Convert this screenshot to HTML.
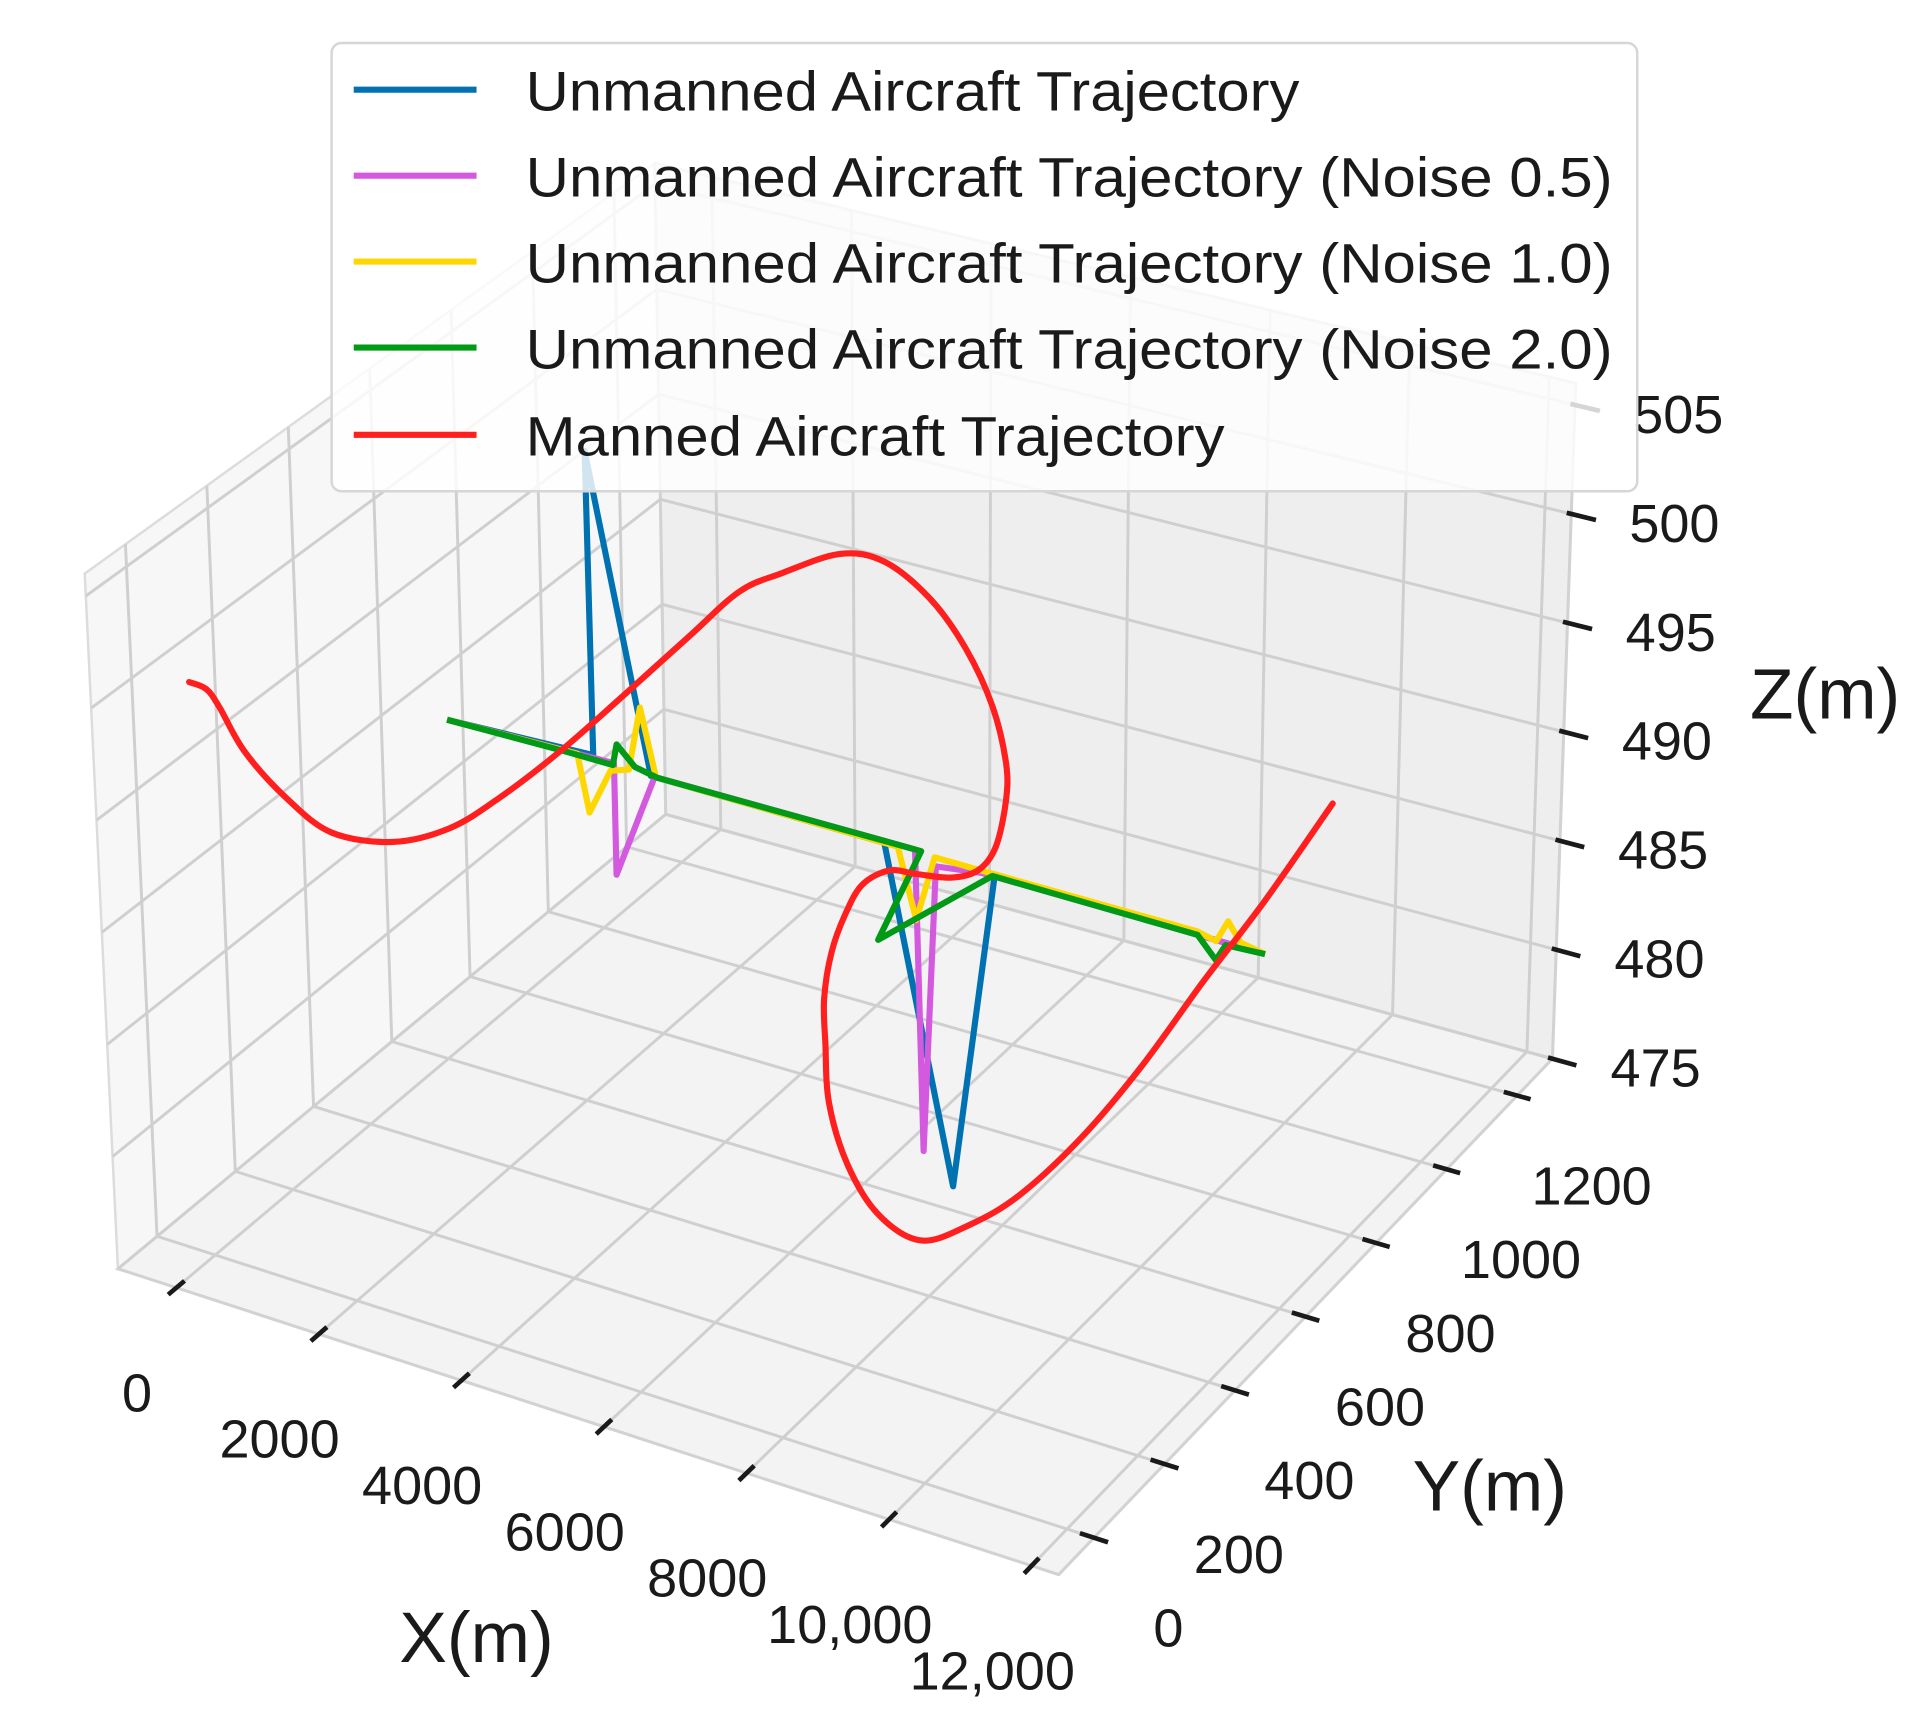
<!DOCTYPE html>
<html><head><meta charset="utf-8"><title>3D Aircraft Trajectories</title>
<style>
html,body{margin:0;padding:0;background:#fff;}
svg{display:block;font-family:"Liberation Sans",Arial,sans-serif;}
</style></head>
<body>
<svg id="chart" xmlns="http://www.w3.org/2000/svg" width="1916" height="1733" viewBox="0 0 1560 1411">
  <g id="panes"></g>
  <g id="grid"></g>
  <g id="ticks"></g>
  <g id="series"></g>
  <text x="388" y="1353" font-size="58" text-anchor="middle" fill="#1a1a1a">X(m)</text>
  <text x="1213" y="1230" font-size="58" text-anchor="middle" fill="#1a1a1a">Y(m)</text>
  <text x="1486" y="585" font-size="58" text-anchor="middle" fill="#1a1a1a">Z(m)</text>
  <g>
    <rect x="270" y="35" width="1063" height="365" rx="8" fill="#ffffff" fill-opacity="0.82" stroke="#d6d6d6" stroke-width="2"/>
    <line x1="288" y1="73" x2="388" y2="73" stroke="#0072b2" stroke-width="5"/>
    <text x="428" y="90" font-size="45" fill="#1a1a1a" textLength="630" lengthAdjust="spacingAndGlyphs">Unmanned Aircraft Trajectory</text>
    <line x1="288" y1="143" x2="388" y2="143" stroke="#d35ade" stroke-width="5"/>
    <text x="428" y="160" font-size="45" fill="#1a1a1a" textLength="885" lengthAdjust="spacingAndGlyphs">Unmanned Aircraft Trajectory (Noise 0.5)</text>
    <line x1="288" y1="213" x2="388" y2="213" stroke="#ffd700" stroke-width="5"/>
    <text x="428" y="230" font-size="45" fill="#1a1a1a" textLength="885" lengthAdjust="spacingAndGlyphs">Unmanned Aircraft Trajectory (Noise 1.0)</text>
    <line x1="288" y1="283" x2="388" y2="283" stroke="#009a17" stroke-width="5"/>
    <text x="428" y="300" font-size="45" fill="#1a1a1a" textLength="885" lengthAdjust="spacingAndGlyphs">Unmanned Aircraft Trajectory (Noise 2.0)</text>
    <line x1="288" y1="354" x2="388" y2="354" stroke="#ff1f1f" stroke-width="5"/>
    <text x="428" y="371" font-size="45" fill="#1a1a1a" textLength="569" lengthAdjust="spacingAndGlyphs">Manned Aircraft Trajectory</text>
  </g>
</svg>
<script>
// ---- axis data ----
const xTicks = [0, 2000, 4000, 6000, 8000, 10000, 12000];
const xTickLabels = ["0", "2000", "4000", "6000", "8000", "10,000", "12,000"];
const yTicks = [200, 400, 600, 800, 1000, 1200, 1400];
const yLabelValues = [0, 200, 400, 600, 800, 1000, 1200];
const yTickLabels = ["0", "200", "400", "600", "800", "1000", "1200"];
const zTicks = [475, 480, 485, 490, 495, 500, 505];
const zTickLabels = ["475", "480", "485", "490", "495", "500", "505"];

// ---- series data ----
const uavX = [121, 2194, 2162, 3011, 6316, 7289, 7881, 10752, 11709];
const uavY = [800, 800, 800, 800, 800, 800, 800, 800, 800];
const uavZ = [490.7, 491.0, 504.9, 490.8, 490.8, 476.1, 490.8, 490.7, 490.7];

const noise05X = [121, 2488, 2493, 3062, 6750, 6864, 7046, 7707, 10752, 11709];
const noise05Y = [800, 800, 800, 800, 800, 800, 800, 800, 800, 800];
const noise05Z = [490.7, 490.9, 485.8, 490.8, 490.9, 477.3, 490.4, 490.7, 490.7, 490.7];

const noise10X = [121, 1967, 2124, 2434, 2697, 2871, 3081, 6507, 6766, 7029, 7533, 10752, 11016, 11183, 11361, 11709];
const noise10Y = [800, 800, 800, 800, 800, 800, 800, 800, 800, 800, 800, 800, 800, 800, 800, 800];
const noise10Z = [490.7, 490.85, 488.3, 490.5, 490.8, 493.8, 490.8, 490.8, 487.7, 490.8, 490.8, 490.85, 490.65, 491.7, 490.9, 490.7];

const noise20X = [121, 1810, 2471, 2529, 2785, 3098, 6837, 6222, 7847, 10752, 11016, 11152, 11709];
const noise20Y = [800, 800, 800, 800, 800, 800, 800, 800, 800, 800, 800, 800, 800];
const noise20Z = [490.7, 490.8, 490.8, 491.8, 491.0, 490.8, 490.9, 486.3, 490.7, 490.7, 489.8, 490.6, 490.7];

const mannedX = [-3555, -3312, -3129, -2801, -2226, -1588, -707, 112, 847, 1741, 2629, 3581, 4299, 4905, 5715, 6332, 6965, 7463, 7842, 8035, 8036, 7897, 7654, 7272, 6767, 6383, 5999, 5751, 5554, 5445, 5457, 5504, 5764, 6205, 6825, 7537, 8244, 9122, 9991, 10848, 11696, 12618];
const mannedY = [800, 800, 800, 800, 800, 800, 800, 800, 800, 800, 800, 800, 800, 800, 800, 800, 800, 800, 800, 800, 800, 800, 800, 800, 800, 800, 800, 800, 800, 800, 800, 800, 800, 800, 800, 800, 800, 800, 800, 800, 800, 800];
const mannedZ = [489.0, 488.9, 488.2, 486.5, 484.9, 483.9, 484.3, 485.7, 487.8, 490.8, 494.1, 497.7, 500.4, 501.8, 503.4, 503.6, 502.5, 500.7, 498.4, 496.0, 494.3, 492.1, 490.8, 490.1, 489.8, 489.6, 488.6, 487.0, 485.1, 482.9, 480.9, 478.2, 475.65, 473.8, 473.2, 474.6, 476.6, 480.0, 484.1, 488.7, 493.1, 498.3];

// ---- axis limits & view geometry ----
const XMIN = -820, XMAX = 12380, YMIN = 100, YMAX = 1500, ZMIN = 475, ZMAX = 506;
const C = {
  c000: [96, 1033], c100: [862, 1282], c110: [1264, 862], c010: [542, 663],
  c001: [69, 467], c101: [865, 710], c111: [1283, 312], c011: [533, 133]
};
function P(x, y, z) {
  const u = (x - XMIN) / (XMAX - XMIN), v = (y - YMIN) / (YMAX - YMIN), w = (z - ZMIN) / (ZMAX - ZMIN);
  const out = [0, 0];
  for (let i = 0; i < 2; i++) {
    const b0 = (1 - u) * (1 - v) * C.c000[i] + u * (1 - v) * C.c100[i] + u * v * C.c110[i] + (1 - u) * v * C.c010[i];
    const b1 = (1 - u) * (1 - v) * C.c001[i] + u * (1 - v) * C.c101[i] + u * v * C.c111[i] + (1 - u) * v * C.c011[i];
    out[i] = (1 - w) * b0 + w * b1;
  }
  return out;
}
const NS = "http://www.w3.org/2000/svg";
function mk(tag, attrs, parent) {
  const e = document.createElementNS(NS, tag);
  for (const k in attrs) e.setAttribute(k, attrs[k]);
  parent.appendChild(e);
  return e;
}
function pts(list) { return list.map(p => p[0].toFixed(1) + "," + p[1].toFixed(1)).join(" "); }

// ---- panes ----
const panes = document.getElementById("panes");
const floor = mk("polygon", { points: pts([P(XMIN, YMIN, ZMIN), P(XMAX, YMIN, ZMIN), P(XMAX, YMAX, ZMIN), P(XMIN, YMAX, ZMIN)]), fill: "#f3f3f3", stroke: "#d2d2d2", "stroke-width": 2.5 }, panes);


const leftWall = mk("polygon", { points: pts([P(XMIN, YMIN, ZMIN), P(XMIN, YMAX, ZMIN), P(XMIN, YMAX, ZMAX), P(XMIN, YMIN, ZMAX)]), fill: "#f7f7f7", stroke: "#dcdcdc", "stroke-width": 2 }, panes);


const backWall = mk("polygon", { points: pts([P(XMIN, YMAX, ZMIN), P(XMAX, YMAX, ZMIN), P(XMAX, YMAX, ZMAX), P(XMIN, YMAX, ZMAX)]), fill: "#eeeeee", stroke: "#d2d2d2", "stroke-width": 2.5 }, panes);



// ---- grid ----
const grid = document.getElementById("grid");
function gline(a, b, name) {
  const l = mk("line", { x1: a[0], y1: a[1], x2: b[0], y2: b[1], stroke: "#cfcfcf", "stroke-width": 2.4 }, grid);
  
  
}
xTicks.forEach(x => {
  gline(P(x, YMIN, ZMIN), P(x, YMAX, ZMIN), "x-grid-floor");
  gline(P(x, YMAX, ZMIN), P(x, YMAX, ZMAX), "x-grid-wall");
});
yTicks.forEach(y => {
  gline(P(XMIN, y, ZMIN), P(XMAX, y, ZMIN), "y-grid-floor");
  gline(P(XMIN, y, ZMIN), P(XMIN, y, ZMAX), "y-grid-wall");
});
zTicks.forEach(z => {
  gline(P(XMIN, YMIN, z), P(XMIN, YMAX, z), "z-grid-left");
  gline(P(XMIN, YMAX, z), P(XMAX, YMAX, z), "z-grid-back");
});

// ---- ticks & labels ----
const ticks = document.getElementById("ticks");
function tmark(a, b, name) {
  const l = mk("line", { x1: a[0], y1: a[1], x2: b[0], y2: b[1], stroke: "#1a1a1a", "stroke-width": 3.8 }, ticks);
  
  
}
function tlabel(p, txt, name) {
  const t = mk("text", { x: p[0].toFixed(1), y: p[1].toFixed(1), "font-size": 44, "text-anchor": "middle", "dominant-baseline": "central", fill: "#1a1a1a" }, ticks);
  t.textContent = txt;
  
  
}
const dy = (YMAX - YMIN), dx = (XMAX - XMIN);
xTicks.forEach((x, i) => {
  tmark(P(x, YMIN + 0.015 * dy, ZMIN), P(x, YMIN - 0.015 * dy, ZMIN), "x-tick");
  const p = P(x, YMIN, ZMIN);
  tlabel([p[0] - 32, p[1] + 86], xTickLabels[i], "x-tick-label");
});
yTicks.forEach(y => {
  tmark(P(XMAX - 0.015 * dx, y, ZMIN), P(XMAX + 0.015 * dx, y, ZMIN), "y-tick");
});
yLabelValues.forEach((y, i) => {
  const p = P(XMAX, y, ZMIN);
  tlabel([p[0] + 118, p[1] + 14], yTickLabels[i], "y-tick-label");
});
zTicks.forEach((z, i) => {
  tmark(P(XMAX - 0.005 * dx, YMAX, z), P(XMAX + 0.027 * dx, YMAX, z), "z-tick");
  const p = P(XMAX, YMAX, z);
  tlabel([p[0] + 84, p[1] + 8], zTickLabels[i], "z-tick-label");
});

// ---- series ----
const series = document.getElementById("series");
function drawSeries(xs, ys, zs, color, name, smooth) {
  const p = xs.map((x, i) => P(x, ys[i], zs[i]));
  let d = "M" + p[0][0].toFixed(1) + "," + p[0][1].toFixed(1);
  if (smooth) {
    for (let i = 0; i < p.length - 1; i++) {
      const p0 = p[Math.max(0, i - 1)], p1 = p[i], p2 = p[i + 1], p3 = p[Math.min(p.length - 1, i + 2)];
      const c1 = [p1[0] + (p2[0] - p0[0]) / 6, p1[1] + (p2[1] - p0[1]) / 6];
      const c2 = [p2[0] - (p3[0] - p1[0]) / 6, p2[1] - (p3[1] - p1[1]) / 6];
      d += " C" + c1[0].toFixed(1) + "," + c1[1].toFixed(1) + " " + c2[0].toFixed(1) + "," + c2[1].toFixed(1) + " " + p2[0].toFixed(1) + "," + p2[1].toFixed(1);
    }
  } else {
    for (let i = 1; i < p.length; i++) d += " L" + p[i][0].toFixed(1) + "," + p[i][1].toFixed(1);
  }
  const path = mk("path", { d: d, fill: "none", stroke: color, "stroke-width": 5, "stroke-linejoin": "round", "stroke-linecap": smooth ? "round" : "butt" }, series);
  
  
}
drawSeries(uavX, uavY, uavZ, "#0072b2", "unmanned-trajectory-line", false);
drawSeries(noise05X, noise05Y, noise05Z, "#d35ade", "noise-0-5-trajectory-line", false);
drawSeries(noise10X, noise10Y, noise10Z, "#ffd700", "noise-1-0-trajectory-line", false);
drawSeries(noise20X, noise20Y, noise20Z, "#009a17", "noise-2-0-trajectory-line", false);
drawSeries(mannedX, mannedY, mannedZ, "#ff1f1f", "manned-trajectory-line", true);
</script>
</body></html>
